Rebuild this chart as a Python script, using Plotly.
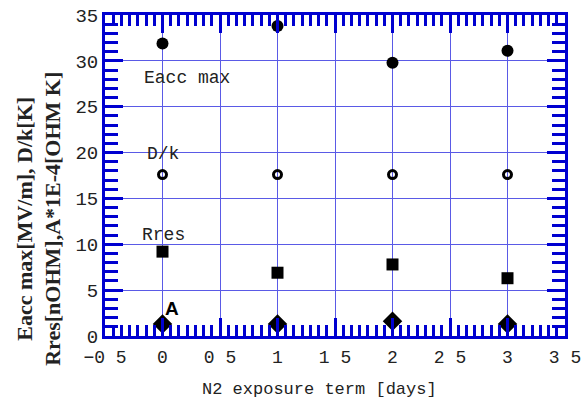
import plotly.graph_objects as go

days = [0, 1, 2, 3]
eacc_max = [31.9, 33.8, 29.8, 31.1]
d_over_k = [17.6, 17.6, 17.6, 17.6]
r_res = [9.2, 6.9, 7.8, 6.3]
a_val = [1.3, 1.3, 1.6, 1.3]

x_tickvals = [-0.5, 0, 0.5, 1, 1.5, 2, 2.5, 3, 3.5]
x_ticktext = ["\u22120 5", "0", "0 5", "1", "1 5", "2", "2 5", "3", "3 5"]
y_tickvals = [0, 5, 10, 15, 20, 25, 30, 35]

BLUE = "#0000d0"
GRID = "#5a5ae6"
MONO = "Liberation Mono, Courier New, monospace"
SERIF = "Liberation Serif, Times New Roman, serif"

fig = go.Figure()
fig.add_trace(go.Scatter(x=days, y=eacc_max, mode="markers",
                         marker=dict(symbol="circle", size=12, color="black")))
fig.add_trace(go.Scatter(x=days, y=d_over_k, mode="markers",
                         marker=dict(symbol="circle-open", size=8, color="black",
                                     line=dict(width=3, color="black"))))
fig.add_trace(go.Scatter(x=days, y=r_res, mode="markers",
                         marker=dict(symbol="square", size=12, color="black")))
fig.add_trace(go.Scatter(x=days, y=a_val, mode="markers",
                         marker=dict(symbol="diamond", size=15, color="black")))

labels = [("Eacc max", -0.18, 28.1), ("D/k", -0.15, 19.8), ("Rres", -0.2, 11.0)]
for txt, xx, yy in labels:
    fig.add_annotation(x=xx, y=yy, text=txt, showarrow=False, xanchor="left",
                       font=dict(family=MONO, size=18, color="#222"))
fig.add_annotation(x=0.0, y=3.0, text="<b>A</b>", showarrow=False, xanchor="left",
                   font=dict(family="Liberation Sans, Arial, sans-serif", size=19, color="black"))

# axis titles as paper annotations for exact placement
fig.add_annotation(xref="paper", yref="paper", x=0.467, y=-0.168,
                   text="N2 exposure term [days]", showarrow=False,
                   xanchor="center", yanchor="middle",
                   font=dict(family=MONO, size=17, color="#222"))
fig.add_annotation(xref="paper", yref="paper", x=-0.145, y=0.366,
                   text="<b>Eacc max[MV/m], D/k[K]</b><br><b>Rres[nOHM],A*1E-4[OHM K]</b>",
                   showarrow=False, textangle=-90, xanchor="center", yanchor="middle",
                   font=dict(family=SERIF, size=22, color="#222"))

fig.update_layout(
    width=583, height=405,
    margin=dict(l=105, r=18, t=15, b=69, autoexpand=False),
    paper_bgcolor="white", plot_bgcolor="white",
    showlegend=False,
    xaxis=dict(
        range=[-0.5, 3.5], tickmode="array", tickvals=x_tickvals, ticktext=x_ticktext,
        showgrid=True, gridcolor=GRID, gridwidth=1.2,
        showline=True, linecolor=BLUE, linewidth=3, mirror="allticks",
        ticks="inside", ticklen=18, tickwidth=3, tickcolor=BLUE,
        minor=dict(dtick=0.5 / 7, ticks="inside", ticklen=11, tickwidth=2.5,
                   tickcolor=BLUE, showgrid=False),
        tickfont=dict(family=MONO, size=18, color="#222"),
        ticklabelstandoff=2,
        automargin=False, zeroline=False,
    ),
    yaxis=dict(
        range=[0, 35], tickmode="array", tickvals=y_tickvals,
        showgrid=True, gridcolor=GRID, gridwidth=1.2,
        showline=True, linecolor=BLUE, linewidth=3, mirror="allticks",
        ticks="inside", ticklen=18, tickwidth=3, tickcolor=BLUE,
        minor=dict(dtick=1, ticks="inside", ticklen=13, tickwidth=2.5,
                   tickcolor=BLUE, showgrid=False),
        tickfont=dict(family=MONO, size=19, color="#222"),
        ticklabelstandoff=0,
        automargin=False, zeroline=False,
    ),
)

fig.write_html("out.html")
